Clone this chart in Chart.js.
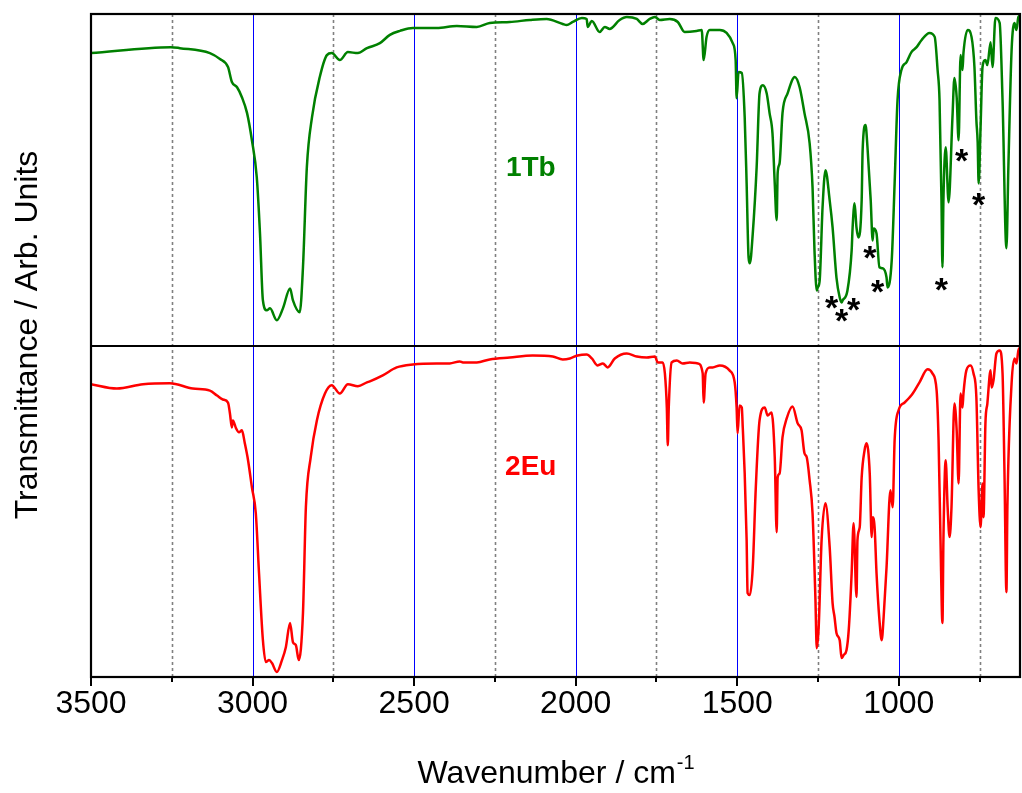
<!DOCTYPE html>
<html>
<head>
<meta charset="utf-8">
<title>IR spectra 1Tb / 2Eu</title>
<script src="https://cdn.jsdelivr.net/npm/chart.js@4.4.1/dist/chart.umd.min.js"></script>
<style>
  html, body { margin: 0; padding: 0; background: #ffffff; }
  #wrap { width: 1022px; height: 793px; position: relative; }
</style>
</head>
<body>
<div id="wrap"><canvas id="ir"></canvas></div>
<script>
// ---- spectrum of 1Tb (upper trace), wavenumber in cm-1, transmittance in arb. units (0-100) ----
const wavenumbers1Tb = [
  3500, 3253, 3225, 3132, 3101, 3076, 3064, 3048, 3033, 3017, 3002, 2987, 2977, 2968, 2956, 2946,
  2925, 2906, 2884, 2875, 2854, 2844, 2832, 2816, 2792, 2770, 2755, 2730, 2705, 2674, 2646, 2606,
  2575, 2544, 2504, 2430, 2368, 2306, 2266, 2204, 2142, 2090, 2040, 2028, 2009, 1981, 1966, 1963,
  1950, 1926, 1910, 1895, 1864, 1842, 1811, 1793, 1771, 1755, 1740, 1709, 1684, 1663, 1626, 1610,
  1604, 1595, 1585, 1554, 1533, 1514, 1505, 1502, 1496, 1486, 1477, 1471, 1465, 1461, 1452, 1440,
  1431, 1421, 1409, 1400, 1391, 1384, 1378, 1375, 1369, 1360, 1344, 1322, 1307, 1292, 1276, 1267,
  1261, 1254, 1251, 1245, 1236, 1227, 1214, 1205, 1193, 1183, 1177, 1174, 1159, 1146, 1143, 1137,
  1131, 1125, 1115, 1112, 1103, 1097, 1087, 1081, 1078, 1069, 1060, 1050, 1038, 1035, 1022, 1013,
  1004, 992, 976, 961, 945, 930, 905, 889, 880, 874, 868, 865, 862, 855, 846, 834,
  828, 821, 815, 809, 803, 800, 787, 775, 766, 760, 756, 753, 747, 741, 732, 726,
  716, 710, 701, 688, 679, 667, 661, 651, 642, 636, 630, 625
];
const transmittance1Tb = [
  88.2, 90.0, 89.7, 88.2, 86.4, 84.0, 79.5, 77.9, 74.9, 70.1, 61.9, 50.8, 33.8, 13.6, 10.6, 11.2,
  7.6, 11.2, 17.2, 13.6, 10.0, 23.6, 53.8, 68.9, 81.0, 87.6, 88.2, 86.1, 88.5, 88.2, 89.7, 91.2,
  93.7, 94.9, 95.8, 95.8, 96.4, 96.1, 97.3, 97.6, 98.2, 98.5, 97.0, 96.7, 97.6, 98.8, 98.5, 96.1,
  97.9, 94.6, 96.1, 95.5, 98.2, 99.1, 98.5, 97.0, 98.5, 99.1, 98.2, 98.5, 97.6, 94.6, 94.9, 95.2,
  86.1, 93.1, 95.2, 95.2, 94.3, 91.2, 86.1, 74.6, 82.5, 82.2, 68.9, 48.9, 26.6, 24.8, 33.8, 53.8,
  76.1, 78.5, 76.1, 70.1, 64.0, 48.9, 37.8, 52.0, 55.0, 70.1, 76.1, 81.0, 77.9, 70.1, 61.0, 47.7,
  28.7, 16.6, 17.5, 19.6, 41.7, 52.9, 43.8, 35.6, 20.5, 14.5, 13.0, 13.6, 16.6, 28.7, 35.6, 42.9,
  35.6, 32.6, 43.8, 58.9, 66.5, 59.8, 43.8, 31.7, 35.3, 33.8, 23.6, 23.3, 20.5, 17.5, 25.7, 48.9,
  74.0, 83.1, 85.5, 88.5, 90.0, 92.1, 94.3, 93.1, 83.1, 74.0, 43.8, 23.6, 43.8, 59.8, 43.2, 68.9,
  80.7, 74.9, 61.9, 87.6, 83.1, 88.2, 95.2, 93.1, 84.0, 68.0, 61.3, 48.9, 65.9, 84.0, 86.1, 84.6,
  91.5, 84.0, 98.8, 97.3, 74.0, 29.3, 53.8, 89.1, 97.3, 95.2, 99.1, 99.5
];

// ---- spectrum of 2Eu (lower trace) ----
const wavenumbers2Eu = [
  3500, 3420, 3339, 3256, 3185, 3132, 3110, 3092, 3076, 3070, 3064, 3061, 3051, 3042, 3033, 3024,
  3014, 3002, 2990, 2980, 2968, 2959, 2949, 2940, 2925, 2909, 2897, 2884, 2875, 2866, 2857, 2844,
  2835, 2820, 2801, 2776, 2755, 2730, 2705, 2674, 2646, 2637, 2597, 2554, 2504, 2430, 2390, 2359,
  2349, 2306, 2266, 2204, 2133, 2071, 2040, 2018, 1994, 1966, 1950, 1932, 1916, 1901, 1879, 1842,
  1811, 1780, 1755, 1746, 1731, 1724, 1718, 1715, 1712, 1703, 1687, 1669, 1647, 1622, 1607, 1604,
  1598, 1585, 1576, 1554, 1524, 1508, 1502, 1499, 1493, 1486, 1483, 1477, 1471, 1468, 1461, 1452,
  1443, 1431, 1415, 1406, 1394, 1384, 1378, 1375, 1369, 1360, 1347, 1329, 1313, 1301, 1292, 1285,
  1276, 1267, 1258, 1254, 1248, 1239, 1227, 1214, 1205, 1199, 1193, 1183, 1177, 1171, 1162, 1155,
  1146, 1140, 1131, 1128, 1121, 1115, 1106, 1100, 1090, 1084, 1081, 1075, 1069, 1060, 1053, 1047,
  1038, 1026, 1019, 1013, 1001, 982, 967, 957, 936, 911, 896, 883, 877, 871, 865, 862,
  855, 849, 843, 837, 828, 821, 815, 809, 803, 800, 791, 778, 769, 760, 753, 747,
  741, 738, 732, 726, 716, 713, 707, 698, 688, 679, 673, 667, 664, 651, 642, 636,
  630, 625
];
const transmittance2Eu = [
  88.3, 87.0, 88.3, 88.6, 87.0, 86.4, 84.9, 83.7, 82.8, 79.5, 75.3, 77.4, 75.0, 73.8, 74.4, 70.5,
  65.4, 57.2, 49.4, 31.3, 11.1, 4.5, 5.1, 4.2, 1.5, 5.1, 9.0, 16.3, 10.5, 9.6, 5.1, 19.3,
  51.2, 66.3, 77.4, 85.5, 88.0, 85.5, 88.3, 87.7, 88.9, 89.2, 91.0, 93.4, 94.3, 94.6, 94.6, 95.2,
  94.9, 94.9, 95.8, 96.4, 97.0, 96.7, 95.8, 96.1, 97.0, 97.3, 96.1, 94.0, 94.6, 93.4, 96.1, 97.6,
  96.7, 96.4, 96.7, 94.9, 94.9, 91.6, 81.3, 69.9, 81.3, 94.9, 95.5, 94.6, 94.9, 94.6, 91.6, 82.8,
  91.6, 93.4, 93.4, 94.0, 92.5, 88.9, 81.3, 73.5, 81.9, 81.3, 75.3, 61.4, 41.3, 25.3, 24.7, 33.1,
  56.3, 77.4, 81.3, 78.9, 79.8, 66.3, 43.7, 60.2, 61.4, 72.3, 78.0, 81.6, 76.5, 74.4, 67.5, 66.3,
  59.3, 49.4, 23.2, 8.7, 15.1, 41.3, 52.4, 39.2, 22.3, 18.1, 13.3, 11.1, 5.7, 6.6, 8.1, 14.2,
  31.3, 46.4, 24.1, 41.3, 45.2, 60.2, 68.4, 70.5, 61.4, 42.2, 48.2, 45.2, 31.3, 17.2, 11.1, 18.1,
  33.1, 56.3, 51.2, 71.4, 80.4, 82.8, 84.3, 85.5, 88.9, 92.8, 91.6, 86.4, 71.4, 41.3, 16.3, 41.3,
  65.4, 51.2, 42.2, 51.2, 82.5, 74.4, 58.4, 85.5, 81.3, 85.5, 92.5, 94.0, 91.6, 84.3, 56.3, 45.2,
  58.4, 48.2, 76.5, 82.5, 92.5, 87.3, 89.5, 97.6, 98.5, 91.6, 61.4, 25.6, 51.2, 88.6, 96.1, 94.6,
  98.5, 99.4
];

// bands of 1Tb flagged with an asterisk: wavenumber and transmittance level of the mark
const markWavenumbers1Tb = [1208, 1177, 1140, 1090, 1066, 868, 806, 753];
const markLevels1Tb = [13.6, 9.7, 13.0, 28.7, 18.7, 19.3, 58.0, 44.7];

const seriesNames = ['1Tb', '2Eu'];

// ---- drawing setup ----
const FONT = '"Liberation Sans", Arial, Helvetica, sans-serif';
const PANEL = 100;            // each trace occupies one 0-100 band of the y scale
const GREEN = '#008000';
const RED = '#ff0000';

const toPoints = (xs, ys, offset) => xs.map((w, i) => ({ x: w, y: ys[i] + offset }));

const irDecor = {
  id: 'irDecor',
  beforeDatasetsDraw(chart) {
    const { ctx, chartArea: a, scales: { x } } = chart;
    ctx.save();
    x.ticks.forEach(t => {
      if (t.value >= x.max || t.value <= x.min) return;
      const major = t.value % 500 === 0;
      const px = Math.round(x.getPixelForValue(t.value)) + 0.5;
      ctx.beginPath();
      ctx.strokeStyle = major ? '#0000ff' : '#808080';
      ctx.lineWidth = major ? 1 : 1.6;
      ctx.setLineDash(major ? [] : [3, 3]);
      ctx.moveTo(px, a.top);
      ctx.lineTo(px, a.bottom);
      ctx.stroke();
    });
    ctx.restore();
  },
  afterDatasetsDraw(chart) {
    const { ctx, chartArea: a, scales: { x, y } } = chart;
    ctx.save();

    // frame and the separator between the two traces
    ctx.strokeStyle = '#000';
    ctx.lineWidth = 2.2;
    ctx.setLineDash([]);
    ctx.strokeRect(a.left, a.top, a.right - a.left, a.bottom - a.top);
    const mid = Math.round(y.getPixelForValue(PANEL));
    ctx.beginPath();
    ctx.moveTo(a.left, mid);
    ctx.lineTo(a.right, mid);
    ctx.stroke();

    // outward tick marks on the wavenumber axis
    ctx.lineWidth = 2;
    x.ticks.forEach(t => {
      const major = t.value % 500 === 0;
      const px = Math.round(x.getPixelForValue(t.value));
      ctx.beginPath();
      ctx.moveTo(px, a.bottom);
      ctx.lineTo(px, a.bottom + (major ? 9 : 5));
      ctx.stroke();
    });

    // trace names
    ctx.font = 'bold 28px ' + FONT;
    ctx.textAlign = 'center';
    ctx.textBaseline = 'middle';
    ctx.fillStyle = GREEN;
    ctx.fillText(seriesNames[0], x.getPixelForValue(2139), y.getPixelForValue(PANEL + 53.5));
    ctx.fillStyle = RED;
    ctx.fillText(seriesNames[1], x.getPixelForValue(2139), y.getPixelForValue(63.3));

    // asterisks on the marked bands of 1Tb
    ctx.fillStyle = '#000';
    ctx.font = 'bold 34px ' + FONT;
    ctx.textBaseline = 'alphabetic';
    markWavenumbers1Tb.forEach((w, i) => {
      ctx.fillText('*', x.getPixelForValue(w), y.getPixelForValue(PANEL + markLevels1Tb[i]) + 19);
    });

    // axis titles
    ctx.fillStyle = '#000';
    const main = 'Wavenumber / cm';
    const sup = '-1';
    ctx.font = '32px ' + FONT;
    const wMain = ctx.measureText(main).width;
    ctx.font = '20px ' + FONT;
    const wSup = ctx.measureText(sup).width;
    const cx = (a.left + a.right) / 2;
    const startX = cx - (wMain + wSup) / 2;
    ctx.textAlign = 'left';
    ctx.font = '32px ' + FONT;
    ctx.fillText(main, startX, 783);
    ctx.font = '20px ' + FONT;
    ctx.fillText(sup, startX + wMain + 1, 769);

    ctx.translate(28, 335);
    ctx.rotate(-Math.PI / 2);
    ctx.font = '32px ' + FONT;
    ctx.textAlign = 'center';
    ctx.textBaseline = 'middle';
    ctx.fillText('Transmittance / Arb. Units', 0, 0);
    ctx.restore();
  }
};

new Chart(document.getElementById('ir'), {
  type: 'line',
  data: {
    datasets: [
      {
        label: seriesNames[0],
        data: toPoints(wavenumbers1Tb, transmittance1Tb, PANEL),
        borderColor: GREEN,
        borderWidth: 2.5,
        pointRadius: 0,
        cubicInterpolationMode: 'monotone',
        fill: false
      },
      {
        label: seriesNames[1],
        data: toPoints(wavenumbers2Eu, transmittance2Eu, 0),
        borderColor: RED,
        borderWidth: 2.5,
        pointRadius: 0,
        cubicInterpolationMode: 'monotone',
        fill: false
      }
    ]
  },
  options: {
    responsive: true,
    maintainAspectRatio: false,
    animation: false,
    devicePixelRatio: 1,
    layout: { padding: { left: 91, right: 2, top: 14, bottom: 0 } },
    plugins: { legend: { display: false }, tooltip: { enabled: false }, title: { display: false } },
    scales: {
      x: {
        type: 'linear',
        reverse: true,
        min: 625,
        max: 3500,
        grid: { display: false },
        border: { display: false },
        ticks: {
          stepSize: 250,
          includeBounds: false,
          autoSkip: false,
          maxRotation: 0,
          padding: 0,
          color: '#000',
          font: { family: FONT, size: 32 },
          callback: v => (v % 500 === 0 ? String(v) : '')
        },
        afterFit: s => { s.height = 116; }
      },
      y: {
        type: 'linear',
        display: false,
        min: 0,
        max: 2 * PANEL
      }
    }
  },
  plugins: [irDecor]
});
</script>
</body>
</html>
